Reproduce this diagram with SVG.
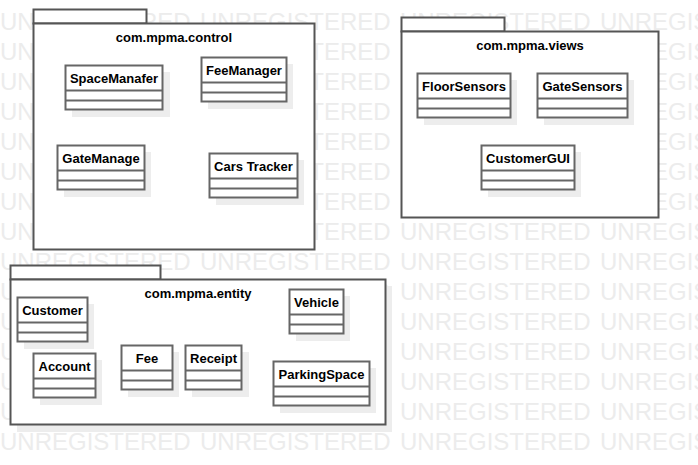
<svg xmlns="http://www.w3.org/2000/svg" width="698" height="465" viewBox="0 0 698 465">
<style>
.wm{font-family:"Liberation Sans",Arial,sans-serif;font-size:24px;fill:#ececec}
.pkg{fill:#fff;stroke:#555;stroke-width:2}
.cls{fill:#fff;stroke:#666;stroke-width:2}
.sep{stroke:#666;stroke-width:2;fill:none}
.sh{fill:#ededed}
.t{font-family:"Liberation Sans",Arial,sans-serif;font-size:13px;font-weight:bold;fill:#000;text-anchor:middle}
</style>
<rect width="698" height="465" fill="#fff"/>
<g id="watermark">
<text class="wm" y="30"><tspan x="0">UNREGISTERED</tspan><tspan x="200">UNREGISTERED</tspan><tspan x="400">UNREGISTERED</tspan><tspan x="600">UNREGISTERED</tspan></text>
<text class="wm" y="60"><tspan x="0">UNREGISTERED</tspan><tspan x="200">UNREGISTERED</tspan><tspan x="400">UNREGISTERED</tspan><tspan x="600">UNREGISTERED</tspan></text>
<text class="wm" y="90"><tspan x="0">UNREGISTERED</tspan><tspan x="200">UNREGISTERED</tspan><tspan x="400">UNREGISTERED</tspan><tspan x="600">UNREGISTERED</tspan></text>
<text class="wm" y="120"><tspan x="0">UNREGISTERED</tspan><tspan x="200">UNREGISTERED</tspan><tspan x="400">UNREGISTERED</tspan><tspan x="600">UNREGISTERED</tspan></text>
<text class="wm" y="150"><tspan x="0">UNREGISTERED</tspan><tspan x="200">UNREGISTERED</tspan><tspan x="400">UNREGISTERED</tspan><tspan x="600">UNREGISTERED</tspan></text>
<text class="wm" y="180"><tspan x="0">UNREGISTERED</tspan><tspan x="200">UNREGISTERED</tspan><tspan x="400">UNREGISTERED</tspan><tspan x="600">UNREGISTERED</tspan></text>
<text class="wm" y="210"><tspan x="0">UNREGISTERED</tspan><tspan x="200">UNREGISTERED</tspan><tspan x="400">UNREGISTERED</tspan><tspan x="600">UNREGISTERED</tspan></text>
<text class="wm" y="240"><tspan x="0">UNREGISTERED</tspan><tspan x="200">UNREGISTERED</tspan><tspan x="400">UNREGISTERED</tspan><tspan x="600">UNREGISTERED</tspan></text>
<text class="wm" y="270"><tspan x="0">UNREGISTERED</tspan><tspan x="200">UNREGISTERED</tspan><tspan x="400">UNREGISTERED</tspan><tspan x="600">UNREGISTERED</tspan></text>
<text class="wm" y="300"><tspan x="0">UNREGISTERED</tspan><tspan x="200">UNREGISTERED</tspan><tspan x="400">UNREGISTERED</tspan><tspan x="600">UNREGISTERED</tspan></text>
<text class="wm" y="330"><tspan x="0">UNREGISTERED</tspan><tspan x="200">UNREGISTERED</tspan><tspan x="400">UNREGISTERED</tspan><tspan x="600">UNREGISTERED</tspan></text>
<text class="wm" y="360"><tspan x="0">UNREGISTERED</tspan><tspan x="200">UNREGISTERED</tspan><tspan x="400">UNREGISTERED</tspan><tspan x="600">UNREGISTERED</tspan></text>
<text class="wm" y="390"><tspan x="0">UNREGISTERED</tspan><tspan x="200">UNREGISTERED</tspan><tspan x="400">UNREGISTERED</tspan><tspan x="600">UNREGISTERED</tspan></text>
<text class="wm" y="420"><tspan x="0">UNREGISTERED</tspan><tspan x="200">UNREGISTERED</tspan><tspan x="400">UNREGISTERED</tspan><tspan x="600">UNREGISTERED</tspan></text>
<text class="wm" y="450"><tspan x="0">UNREGISTERED</tspan><tspan x="200">UNREGISTERED</tspan><tspan x="400">UNREGISTERED</tspan><tspan x="600">UNREGISTERED</tspan></text>
</g>

<g id="pkg-control">
<rect class="pkg" x="33.5" y="9.5" width="113" height="14"/>
<rect class="pkg" x="33.5" y="23.5" width="281" height="226"/>
<text class="t" x="174" y="42">com.mpma.control</text>
</g>
<g id="pkg-views">
<rect class="pkg" x="401.5" y="17.5" width="103" height="14"/>
<rect class="pkg" x="401.5" y="31.5" width="257" height="186"/>
<text class="t" x="530" y="50">com.mpma.views</text>
</g>
<g id="pkg-entity">
<rect class="sh" x="17" y="286" width="375" height="146"/>
<rect class="pkg" x="10.5" y="265.5" width="150" height="14"/>
<rect class="pkg" x="10.5" y="279.5" width="375" height="145"/>
<text class="t" x="198" y="298">com.mpma.entity</text>
</g>

<g id="SpaceManafer">
<rect class="sh" x="72" y="72" width="98" height="45"/>
<rect class="cls" x="65.5" y="65.5" width="97" height="44"/>
<path class="sep" d="M65.5 90.5H162.5M65.5 100.5H162.5"/>
<text class="t" x="114" y="83">SpaceManafer</text>
</g>
<g id="FeeManager">
<rect class="sh" x="208" y="64" width="85" height="45"/>
<rect class="cls" x="201.5" y="57.5" width="85" height="44"/>
<path class="sep" d="M201.5 82.5H286.5M201.5 92.5H286.5"/>
<text class="t" x="244" y="75">FeeManager</text>
</g>
<g id="GateManage">
<rect class="sh" x="64" y="152" width="87" height="45"/>
<rect class="cls" x="57.5" y="145.5" width="87" height="44"/>
<path class="sep" d="M57.5 170.5H144.5M57.5 180.5H144.5"/>
<text class="t" x="101" y="163">GateManage</text>
</g>
<g id="CarsTracker">
<rect class="sh" x="216" y="160" width="88" height="45"/>
<rect class="cls" x="209.5" y="153.5" width="88" height="44"/>
<path class="sep" d="M209.5 178.5H297.5M209.5 188.5H297.5"/>
<text class="t" x="253.5" y="171">Cars Tracker</text>
</g>

<g id="FloorSensors">
<rect class="sh" x="424" y="80" width="93" height="45"/>
<rect class="cls" x="417.5" y="73.5" width="93" height="44"/>
<path class="sep" d="M417.5 98.5H510.5M417.5 108.5H510.5"/>
<text class="t" x="464" y="91">FloorSensors</text>
</g>
<g id="GateSensors">
<rect class="sh" x="544" y="80" width="90" height="45"/>
<rect class="cls" x="537.5" y="73.5" width="90" height="44"/>
<path class="sep" d="M537.5 98.5H627.5M537.5 108.5H627.5"/>
<text class="t" x="582.5" y="91">GateSensors</text>
</g>
<g id="CustomerGUI">
<rect class="sh" x="488" y="152" width="93" height="45"/>
<rect class="cls" x="481.5" y="145.5" width="93" height="44"/>
<path class="sep" d="M481.5 170.5H574.5M481.5 180.5H574.5"/>
<text class="t" x="528" y="163">CustomerGUI</text>
</g>

<g id="Customer">
<rect class="sh" x="24" y="304" width="70" height="45"/>
<rect class="cls" x="17.5" y="297.5" width="70" height="44"/>
<path class="sep" d="M17.5 322.5H87.5M17.5 332.5H87.5"/>
<text class="t" x="52.5" y="315">Customer</text>
</g>
<g id="Account">
<rect class="sh" x="40" y="360" width="62" height="45"/>
<rect class="cls" x="33.5" y="353.5" width="62" height="44"/>
<path class="sep" d="M33.5 378.5H95.5M33.5 388.5H95.5"/>
<text class="t" x="64.5" y="371">Account</text>
</g>
<g id="Fee">
<rect class="sh" x="128" y="352" width="51" height="45"/>
<rect class="cls" x="121.5" y="345.5" width="51" height="44"/>
<path class="sep" d="M121.5 370.5H172.5M121.5 380.5H172.5"/>
<text class="t" x="147" y="363">Fee</text>
</g>
<g id="Receipt">
<rect class="sh" x="192" y="352" width="57" height="45"/>
<rect class="cls" x="185.5" y="345.5" width="56" height="44"/>
<path class="sep" d="M185.5 370.5H241.5M185.5 380.5H241.5"/>
<text class="t" x="213.5" y="363">Receipt</text>
</g>
<g id="Vehicle">
<rect class="sh" x="296" y="296" width="54" height="45"/>
<rect class="cls" x="289.5" y="289.5" width="54" height="44"/>
<path class="sep" d="M289.5 314.5H343.5M289.5 324.5H343.5"/>
<text class="t" x="316.5" y="307">Vehicle</text>
</g>
<g id="ParkingSpace">
<rect class="sh" x="280" y="368" width="96" height="45"/>
<rect class="cls" x="273.5" y="361.5" width="96" height="44"/>
<path class="sep" d="M273.5 386.5H369.5M273.5 396.5H369.5"/>
<text class="t" x="321.5" y="379">ParkingSpace</text>
</g>
<g id="connectors"/>
</svg>
